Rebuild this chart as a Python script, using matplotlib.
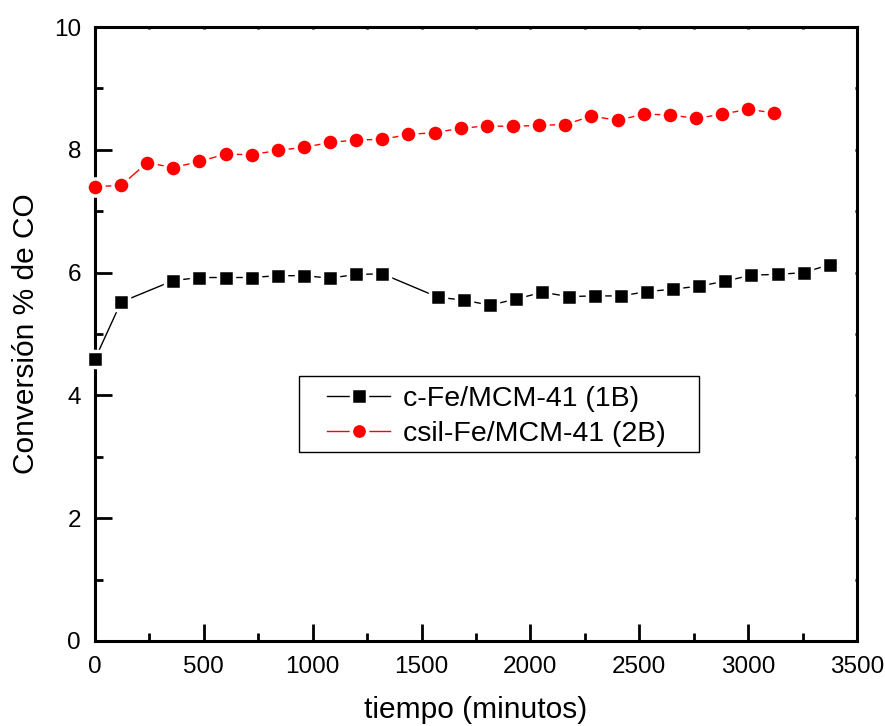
import matplotlib
matplotlib.use("Agg")
import matplotlib.pyplot as plt
from matplotlib.ticker import MultipleLocator
from matplotlib.patches import Rectangle

plt.rcParams['font.family'] = ['Liberation Sans', 'DejaVu Sans']

# c-Fe/MCM-41 (1B)
t_1b = [0, 120, 360, 480, 600, 720, 840, 960, 1080, 1200, 1320,
        1575, 1695, 1815, 1935, 2055, 2175, 2295, 2415, 2535, 2655,
        2775, 2895, 3015, 3135, 3255, 3375]
conv_1b = [4.59, 5.52, 5.87, 5.92, 5.92, 5.92, 5.95, 5.95, 5.91, 5.97, 5.98,
           5.60, 5.55, 5.47, 5.57, 5.68, 5.61, 5.62, 5.62, 5.69, 5.73,
           5.78, 5.86, 5.96, 5.97, 6.00, 6.13]

# csil-Fe/MCM-41 (2B)
t_2b = [0, 120, 240, 360, 480, 600, 720, 840, 960, 1080, 1200, 1320,
        1440, 1560, 1680, 1800, 1920, 2040, 2160, 2280, 2400, 2520,
        2640, 2760, 2880, 3000, 3120]
conv_2b = [7.40, 7.42, 7.79, 7.71, 7.81, 7.93, 7.92, 7.99, 8.04, 8.12, 8.16, 8.17,
           8.25, 8.28, 8.35, 8.39, 8.38, 8.40, 8.41, 8.55, 8.48, 8.58,
           8.57, 8.51, 8.58, 8.66, 8.60]

labels = ["c-Fe/MCM-41 (1B)", "csil-Fe/MCM-41 (2B)"]

fig = plt.figure(figsize=(8.85, 7.26), dpi=100)
ax = fig.add_axes([0.1073, 0.1171, 0.8611, 0.8457])

ax.plot(t_1b, conv_1b, color='black', lw=1.0, marker='s', ms=11.5,
        mfc='black', mec='white', mew=2.5, label=labels[0],
        clip_on=False, zorder=3)
ax.plot(t_2b, conv_2b, color='red', lw=1.0, marker='o', ms=12.3,
        mfc='red', mec='white', mew=2.5, label=labels[1],
        clip_on=False, zorder=3)

ax.set_xlim(0, 3500)
ax.set_ylim(0, 10)
ax.xaxis.set_major_locator(MultipleLocator(500))
ax.xaxis.set_minor_locator(MultipleLocator(250))
ax.yaxis.set_major_locator(MultipleLocator(2))
ax.yaxis.set_minor_locator(MultipleLocator(1))

ax.tick_params(which='major', direction='in', length=12, width=2,
               labelsize=17.5)
ax.tick_params(which='minor', direction='in', length=6, width=2)
ax.tick_params(axis='x', which='major', pad=11)
ax.tick_params(axis='y', which='major', pad=10)
ax.xaxis.set_tick_params(which='both', top=True)
ax.yaxis.set_tick_params(which='both', right=True)
# tiny ticks on the top and right spines
for tick in ax.xaxis.get_major_ticks() + ax.xaxis.get_minor_ticks():
    tick.tick2line.set_markersize(1.5)
for tick in ax.yaxis.get_major_ticks() + ax.yaxis.get_minor_ticks():
    tick.tick2line.set_markersize(1.5)

for sp in ax.spines.values():
    sp.set_linewidth(2.2)

ax.set_xlabel("tiempo (minutos)", fontsize=21.5, labelpad=12.5)
ax.set_ylabel("Conversión % de CO", fontsize=21.5, labelpad=10)

leg = ax.legend(loc='upper left', bbox_to_anchor=(0.305, 0.415),
                fontsize=20.5, frameon=False,
                markerscale=0.95, handlelength=2.2, handletextpad=0.45,
                borderpad=0.0, labelspacing=0.3, borderaxespad=0)

# legend frame
ax.add_patch(Rectangle((0.2677, 0.3078), 0.5249, 0.1238, transform=ax.transAxes,
                       fill=False, edgecolor='black', lw=1.0, zorder=4))

fig.savefig("out.png", dpi=100)
